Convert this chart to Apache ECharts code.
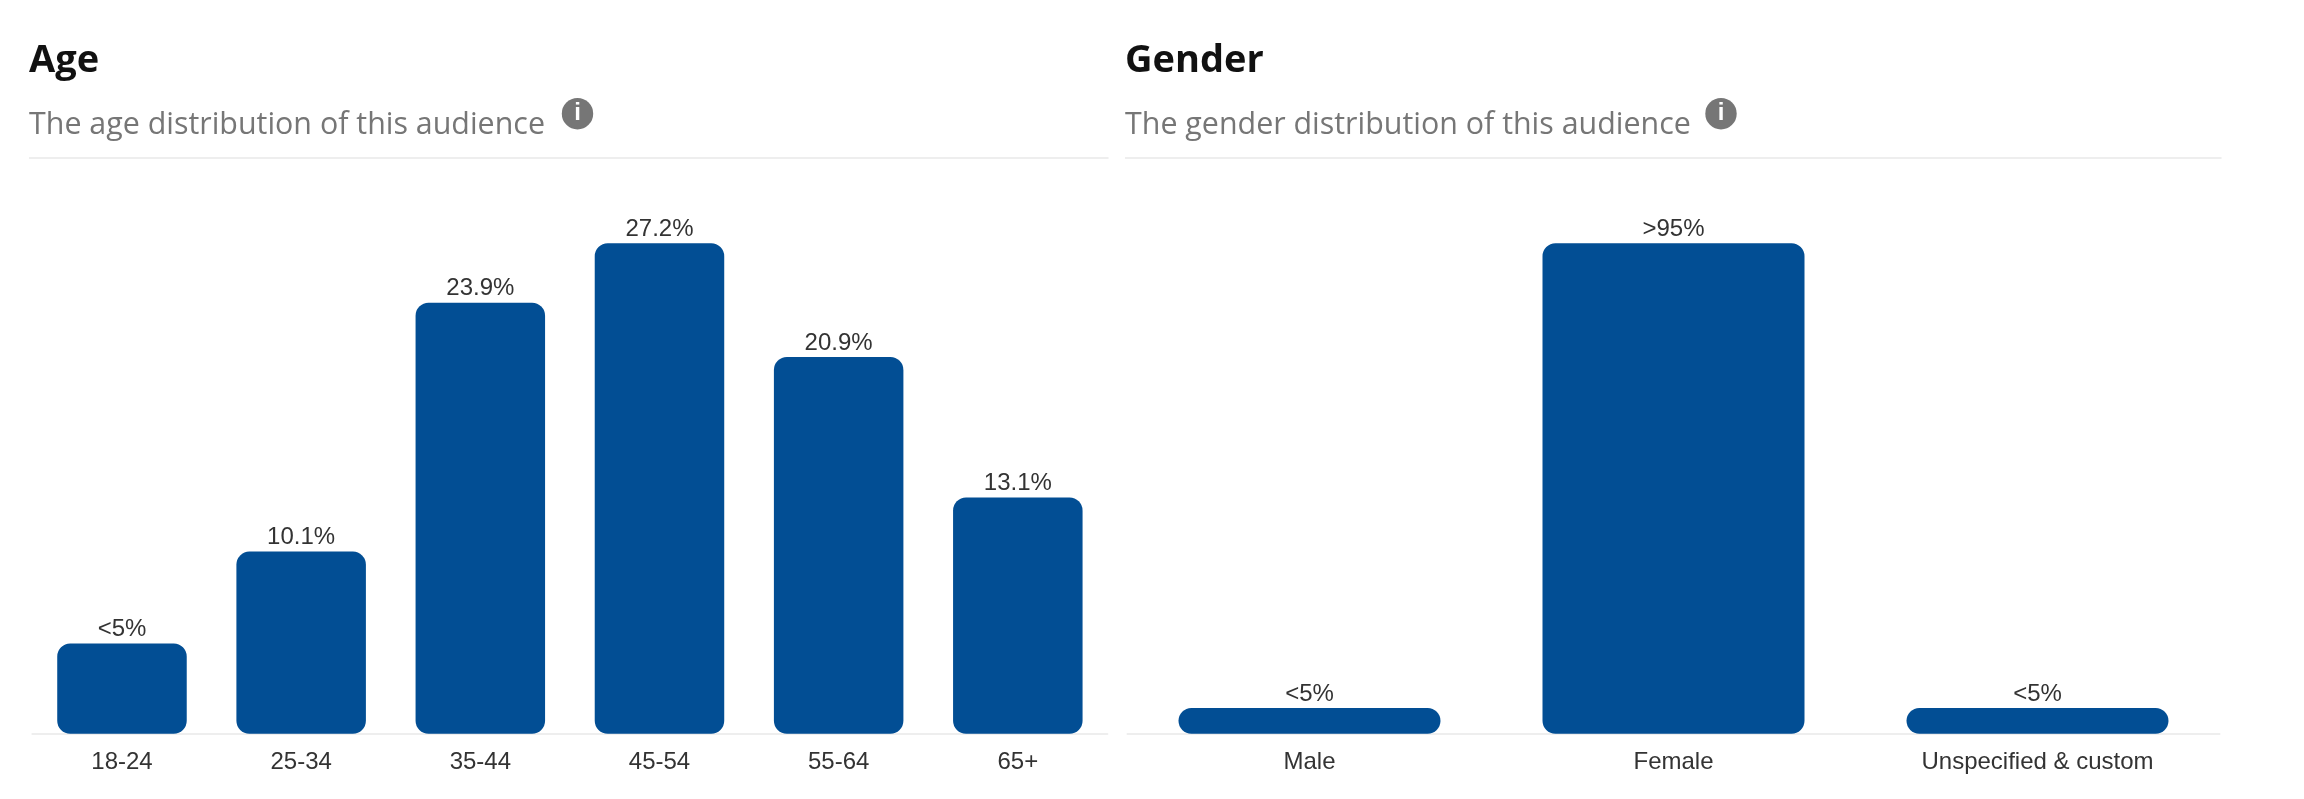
<!DOCTYPE html>
<html>
<head>
<meta charset="utf-8">
<style>html,body{margin:0;padding:0;background:#fff}#c{width:2304px;height:799px}</style>
<script src="https://cdn.jsdelivr.net/npm/echarts@6/dist/echarts.min.js"></script>
</head>
<body>
<div id="c"></div>
<script>
const ageCategories = ['18-24','25-34','35-44','45-54','55-64','65+'];
const ageValues = [5, 10.1, 23.9, 27.2, 20.9, 13.1];
const ageLabels = ['<5%','10.1%','23.9%','27.2%','20.9%','13.1%'];
const genderCategories = ['Male','Female','Unspecified & custom'];
const genderValues = [5, 95, 5];
const genderLabels = ['<5%','>95%','<5%'];

const BLUE = '#024e94';
const TXT = '#333333';
const LINE = '#eeeeee';
const labelFont = 'Liberation Sans';

function header(x, x2, title, sub, iconX) {
  return [
    {type:'text', left:x, top:42, style:{text:title, fontFamily:'Open Sans', fontWeight:700, fontSize:38, fill:'#111111'}},
    {type:'text', left:x, top:110, style:{text:sub, fontFamily:'Open Sans', fontWeight:400, fontSize:30.4, fill:'#767676'}},
    {type:'rect', shape:{x:x, y:157, width:x2-x, height:2}, style:{fill:LINE}},
    {type:'circle', shape:{cx:iconX, cy:113.7, r:15.7}, style:{fill:'#767676'}},
    {type:'text', x:iconX, y:113.7, style:{text:'i', fontFamily:'Liberation Sans', fontWeight:700, fontSize:24, fill:'#ffffff', align:'center', verticalAlign:'middle'}}
  ];
}

const xAxisCommon = {
  type:'category',
  axisTick:{show:false},
  axisLine:{show:true, lineStyle:{color:LINE, width:2}},
  axisLabel:{color:TXT, fontFamily:labelFont, fontSize:24, margin:17, interval:0}
};
const yAxisCommon = {type:'value', min:0, show:false, splitLine:{show:false}};
function barSeries(idx, values, labels, width) {
  return {
    type:'bar', xAxisIndex:idx, yAxisIndex:idx, data:values, barWidth:width, silent:true,
    itemStyle:{color:BLUE, borderRadius:13},
    label:{show:true, position:'top', distance:2, color:TXT, fontFamily:labelFont, fontSize:24,
      formatter:p=>labels[p.dataIndex]}
  };
}

const chart = echarts.init(document.getElementById('c'), null, {renderer:'canvas'});
chart.setOption({
  animation:false,
  backgroundColor:'#ffffff',
  grid:[
    {left:32.4, width:1075, top:243.3, height:490.4},
    {left:1127.5, width:1092, top:243.3, height:490.4}
  ],
  xAxis:[
    Object.assign({}, xAxisCommon, {gridIndex:0, data:ageCategories}),
    Object.assign({}, xAxisCommon, {gridIndex:1, data:genderCategories})
  ],
  yAxis:[
    Object.assign({}, yAxisCommon, {gridIndex:0, max:27.2}),
    Object.assign({}, yAxisCommon, {gridIndex:1, max:95})
  ],
  series:[
    barSeries(0, ageValues, ageLabels, 129.5),
    barSeries(1, genderValues, genderLabels, 262)
  ],
  graphic:{elements:[
    ...header(29, 1115-6.5, 'Age', 'The age distribution of this audience', 577.5),
    ...header(1125, 2232-10.5, 'Gender', 'The gender distribution of this audience', 1721)
  ]}
});
</script>
</body>
</html>
